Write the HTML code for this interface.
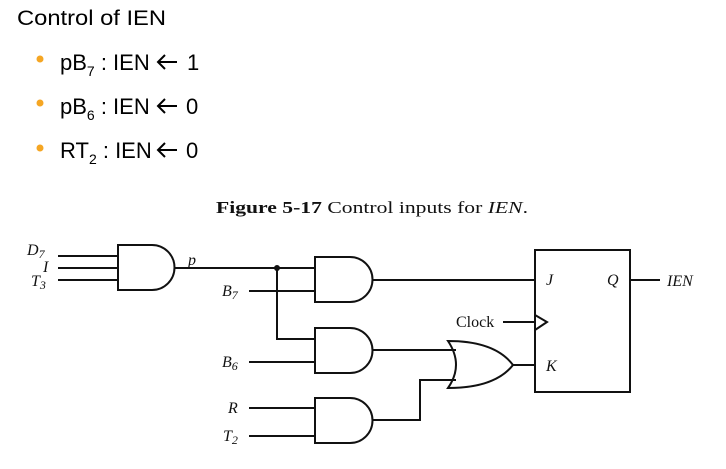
<!DOCTYPE html>
<html><head><style>
html,body{margin:0;padding:0;background:#fff;}
svg{display:block;}
.c{font-family:"Liberation Sans",sans-serif;fill:#000;}
.s{font-family:"Liberation Serif",serif;fill:#111;}
</style></head><body>
<svg width="726" height="469" viewBox="0 0 726 469" xmlns="http://www.w3.org/2000/svg">
<text class="c" x="17" y="25" font-size="21" textLength="149" lengthAdjust="spacingAndGlyphs">Control of IEN</text>
<g fill="#F5A623"><circle cx="40" cy="59" r="3.5"/><circle cx="40" cy="103" r="3.5"/><circle cx="40" cy="148" r="3.5"/></g>
<g class="c" font-size="22">
<text x="60" y="70">pB<tspan font-size="14" dy="6">7</tspan><tspan dy="-6"> : IEN</tspan></text>
<text x="187" y="70">1</text>
<text x="60" y="114">pB<tspan font-size="14" dy="6">6</tspan><tspan dy="-6"> : IEN</tspan></text>
<text x="186" y="114">0</text>
<text x="60" y="158">RT<tspan font-size="14" dy="6">2</tspan><tspan dy="-6"> : IEN</tspan></text>
<text x="186" y="158">0</text>
</g>
<g stroke="#000" stroke-width="2" fill="none">
<path d="M158 62 H177 M165 55 L158 62 L165 69"/>
<path d="M158 106 H177 M165 99 L158 106 L165 113"/>
<path d="M158 150 H177 M165 143 L158 150 L165 157"/>
</g>
<text class="s" x="216" y="213" font-size="17" textLength="312" lengthAdjust="spacingAndGlyphs"><tspan font-weight="bold">Figure 5-17</tspan>   Control inputs for <tspan font-style="italic">IEN</tspan>.</text>

<g stroke="#111" stroke-width="2" fill="none">
<path d="M118 245 H152 A22.5 22.5 0 0 1 152 290 H118 Z"/>
<path d="M58 256 H118 M58 268 H118 M58 280 H118"/>
<path d="M175 268 H315"/>
<path d="M315 257 H350 A22.5 22.5 0 0 1 350 302 H315 Z"/>
<path d="M249 291 H315"/>
<path d="M277 268 V339 H315"/>
<path d="M315 328 H350 A22.5 22.5 0 0 1 350 373 H315 Z"/>
<path d="M249 362 H315"/>
<path d="M315 398 H350 A22.5 22.5 0 0 1 350 443 H315 Z"/>
<path d="M249 408 H315 M249 436 H315"/>
<path d="M372 280 H535"/>
<path d="M372 350 H456"/>
<path d="M372 420 H420 V380 H456"/>
<path d="M448 341 Q464 365 448 388 Q495 388 513 365 Q495 341 448 341 Z"/>
<path d="M513 365 H535"/>
<rect x="535" y="250" width="95" height="142"/>
<path d="M503 322 H535"/>
<path d="M535 315 L547 322 L535 330"/>
<path d="M630 280 H660"/>
</g>
<circle cx="277" cy="268" r="3" fill="#111"/>
<g class="s" font-style="italic" font-size="16">
<text x="27" y="255">D<tspan font-size="12" dy="3">7</tspan></text>
<text x="43" y="272">I</text>
<text x="31" y="286">T<tspan font-size="12" dy="3">3</tspan></text>
<text x="188" y="265">p</text>
<text x="222" y="296">B<tspan font-size="12" dy="3">7</tspan></text>
<text x="222" y="367">B<tspan font-size="12" dy="3">6</tspan></text>
<text x="228" y="413">R</text>
<text x="223" y="441">T<tspan font-size="12" dy="3">2</tspan></text>
<text x="546" y="285">J</text>
<text x="607" y="285">Q</text>
<text x="546" y="371">K</text>
<text x="667" y="286">IEN</text>
</g>
<text class="s" x="456" y="327" font-size="16">Clock</text>
</svg>
</body></html>
